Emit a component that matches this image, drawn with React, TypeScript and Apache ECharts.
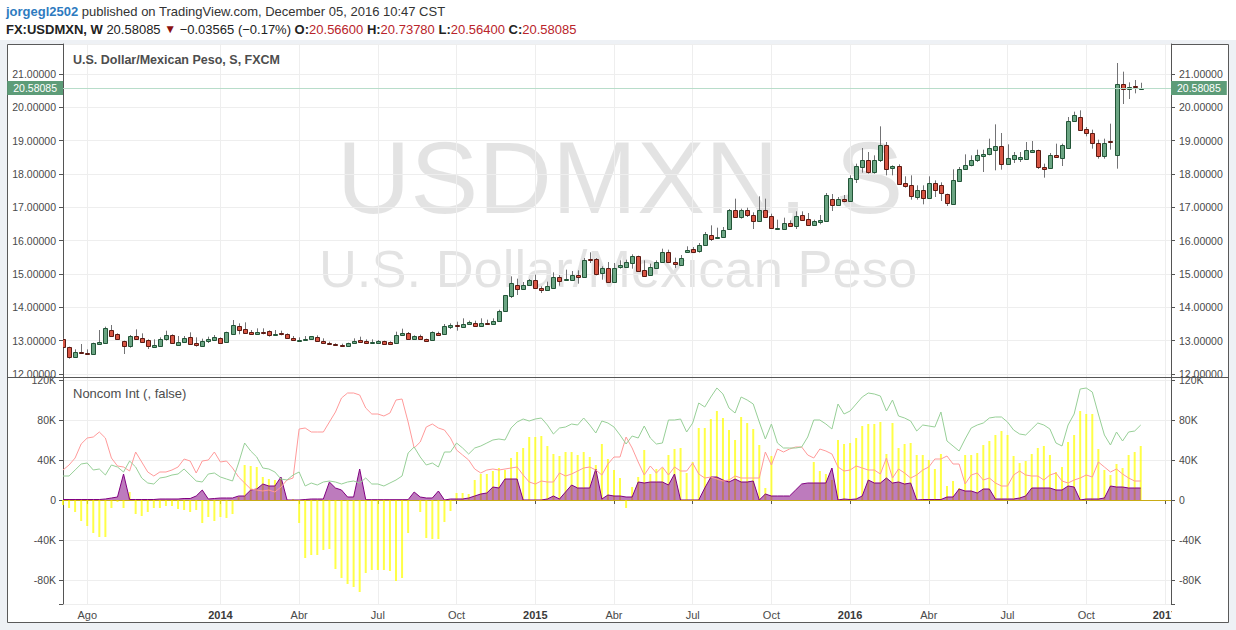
import React, { useEffect, useRef } from 'react';
import * as echarts from 'echarts';

// ---------- categories / ticks ----------
const FIRST_WEEK_UTC = Date.UTC(2013, 6, 8); // week of 2013-07-08
const WEEK_COUNT = 184;
const weeks: string[] = [];
for (let i = 0; i < WEEK_COUNT; i++) {
  weeks.push(new Date(FIRST_WEEK_UTC + i * 7 * 86400000).toISOString().slice(0, 10));
}
const tickDates = ['2013-08-05', '2014-01-06', '2014-04-07', '2014-07-07', '2014-10-06', '2015-01-05', '2015-04-06', '2015-07-06', '2015-10-05', '2016-01-04', '2016-04-04', '2016-07-04', '2016-10-03', '2017-01-02'];
const tickLabels = ['Ago', '2014', 'Abr', 'Jul', 'Oct', '2015', 'Abr', 'Jul', 'Oct', '2016', 'Abr', 'Jul', 'Oct', '2017'];

// ---------- weekly OHLC ----------
const opens = [13.06,12.80,12.52,12.65,12.64,12.59,12.89,12.94,13.32,13.20,
12.98,12.85,13.14,13.08,13.02,12.82,12.85,13.04,13.17,12.88,
12.96,13.10,12.93,12.85,12.98,13.03,13.08,12.97,13.19,13.43,
13.34,13.26,13.21,13.25,13.28,13.18,13.22,13.20,13.07,13.00,
13.03,13.04,13.10,12.99,12.94,12.91,12.88,12.83,12.92,13.02,
12.99,12.96,12.94,12.99,12.97,12.94,13.16,13.23,13.06,13.14,
13.05,13.03,13.22,13.19,13.42,13.48,13.42,13.51,13.52,13.44,
13.52,13.50,13.60,13.88,14.34,14.68,14.55,14.68,14.81,14.58,
14.52,14.58,14.92,14.83,14.83,14.96,14.91,15.46,15.46,15.03,
15.19,14.77,15.21,15.21,15.33,15.53,15.11,14.98,15.19,15.36,
15.67,15.35,15.28,15.67,15.76,15.69,15.88,16.18,16.08,16.11,
16.35,16.93,16.71,16.91,16.76,16.59,16.93,16.73,16.34,16.36,
16.54,16.44,16.78,16.66,16.47,16.57,16.59,17.26,17.07,17.26,
17.18,17.86,18.21,18.41,18.06,18.41,18.86,18.19,18.23,17.73,
17.66,17.31,17.51,17.28,17.74,17.66,17.39,17.11,17.79,18.16,
18.26,18.41,18.55,18.59,18.73,18.84,18.31,18.46,18.46,18.46,
18.67,18.71,18.21,18.18,18.56,18.49,18.79,19.58,19.71,19.34,
19.23,18.93,18.53,19.00,18.58,20.70,20.55,20.65,20.566];
const highs = [13.07,12.82,12.74,12.90,12.74,12.94,13.32,13.42,13.47,13.22,
13.00,13.17,13.34,13.22,13.04,13.04,13.10,13.30,13.19,13.14,
13.14,13.25,13.10,13.06,13.12,13.17,13.10,13.27,13.62,13.52,
13.55,13.32,13.37,13.37,13.31,13.32,13.30,13.22,13.14,13.10,
13.14,13.14,13.16,13.07,12.97,12.92,12.91,12.94,13.07,13.12,
13.04,13.04,13.02,13.00,12.98,13.27,13.36,13.26,13.16,13.18,
13.06,13.28,13.27,13.50,13.52,13.57,13.67,13.60,13.60,13.67,
13.63,13.67,13.93,14.37,14.93,14.86,14.76,14.85,14.98,14.63,
14.77,15.05,14.97,15.13,15.09,15.11,15.48,15.65,15.48,15.23,
15.36,15.33,15.41,15.43,15.59,15.55,15.41,15.31,15.41,15.76,
15.73,15.49,15.57,15.83,15.81,15.93,16.26,16.46,16.39,16.41,
16.95,17.26,16.96,16.99,16.85,17.33,17.26,16.81,16.63,16.69,
16.61,16.88,16.88,16.83,16.63,16.77,17.43,17.40,17.31,17.37,
17.96,18.31,18.78,18.66,18.56,19.43,18.96,18.26,18.29,17.93,
17.96,17.66,17.66,17.93,17.81,17.75,17.41,18.14,18.21,18.59,
18.56,18.73,18.73,19.06,19.49,19.23,18.89,18.66,18.66,18.96,
18.99,18.73,18.31,18.63,18.91,18.91,19.71,19.87,19.91,19.41,
19.33,19.03,19.06,19.51,21.33,21.07,20.75,20.82,20.7378];
const lows = [12.78,12.46,12.49,12.62,12.59,12.57,12.88,12.93,13.13,13.02,
12.60,12.79,13.04,12.94,12.75,12.81,12.82,13.00,12.90,12.85,
12.95,12.89,12.82,12.84,12.93,13.02,12.94,12.96,13.18,13.19,
13.21,13.21,13.20,13.19,13.12,13.17,13.16,13.05,12.99,12.97,
13.01,13.03,12.96,12.94,12.88,12.85,12.82,12.82,12.91,12.96,
12.92,12.94,12.93,12.91,12.91,12.93,13.15,13.02,13.05,13.03,
13.00,13.02,13.15,13.18,13.35,13.30,13.41,13.50,13.42,13.42,
13.49,13.48,13.58,13.86,14.28,14.37,14.52,14.65,14.55,14.43,
14.50,14.55,14.65,14.82,14.81,14.71,14.89,15.33,14.96,14.83,
14.75,14.75,15.16,15.19,15.16,15.07,14.93,14.96,15.17,15.34,
15.33,15.18,15.26,15.63,15.65,15.64,15.85,15.99,16.05,16.09,
16.33,16.69,16.66,16.71,16.35,16.57,16.69,16.36,16.33,16.34,
16.41,16.35,16.59,16.44,16.44,16.49,16.56,16.89,17.04,17.15,
17.16,17.73,18.04,18.01,18.01,18.36,17.96,17.96,17.69,17.59,
17.23,17.23,17.09,17.26,17.31,17.19,17.04,17.09,17.77,18.13,
18.23,18.36,18.06,18.56,18.11,18.13,18.29,18.33,18.36,18.44,
18.63,18.15,17.89,18.16,18.49,18.24,18.76,19.56,19.31,19.13,
18.76,18.46,18.46,18.73,18.16,20.10,20.25,20.42,20.564];
const closes = [12.82,12.52,12.65,12.63,12.61,12.92,12.95,13.37,13.15,13.04,
12.85,13.14,13.06,12.97,12.85,12.88,13.04,13.17,12.92,12.96,
13.07,12.91,12.86,12.98,13.05,13.11,12.94,13.25,13.47,13.33,
13.24,13.21,13.26,13.24,13.16,13.19,13.20,13.07,13.01,13.03,
13.04,13.13,13.00,12.94,12.89,12.86,12.83,12.92,12.99,12.97,
12.94,12.97,13.00,12.91,12.91,13.17,13.24,13.04,13.14,13.06,
13.00,13.26,13.17,13.44,13.47,13.46,13.50,13.56,13.44,13.52,
13.51,13.58,13.90,14.36,14.74,14.55,14.68,14.81,14.58,14.53,
14.63,14.92,14.80,14.86,14.98,14.91,15.43,15.41,15.00,15.19,
14.76,15.19,15.28,15.35,15.53,15.09,14.94,15.22,15.35,15.67,
15.35,15.31,15.49,15.71,15.66,15.88,16.21,16.04,16.11,16.33,
16.93,16.71,16.91,16.77,16.59,16.93,16.71,16.38,16.39,16.54,
16.44,16.75,16.63,16.47,16.58,16.61,17.36,17.08,17.26,17.19,
17.89,18.23,18.41,18.06,18.41,18.86,18.16,18.23,17.71,17.64,
17.34,17.51,17.28,17.74,17.51,17.43,17.13,17.81,18.14,18.28,
18.41,18.56,18.59,18.79,18.84,18.31,18.49,18.56,18.51,18.71,
18.71,18.21,18.16,18.56,18.51,18.86,19.58,19.76,19.33,19.23,
18.93,18.53,18.93,18.96,20.70,20.55,20.62,20.6165,20.58085];
const lastClose = 20.58085;

// ---------- Noncom Int (thousands of contracts) ----------
const netBars = [-5,-8,-12,-21,-26,-33,-37,-37,-8,-2,
-8,8,-14,-16,-12,-8,-8,-6,-6,-9,
-10,-12,-10,-23,-17,-21,-17,-18,-14,3,
35,34,33,23,21,20,22,0,1,-23,
-58,-55,-55,-50,-49,-69,-78,-84,-87,-92,
-73,-70,-70,-70,-71,-81,-78,-33,0,-12,
-38,-39,-39,-22,-11,7,7,6,20,26,
26,29,32,30,42,48,52,63,63,64,
54,46,44,48,48,45,48,43,35,56,
41,30,22,-8,13,23,50,26,31,32,
45,51,52,27,38,72,72,81,89,82,
70,60,83,77,71,55,12,44,0,0,
0,0,0,0,38,29,26,20,60,56,
57,62,74,76,76,78,46,77,52,56,
57,45,45,40,31,46,14,19,12,45,
45,47,55,59,65,69,65,44,37,39,
46,52,54,45,28,33,58,65,89,86,
86,51,30,25,36,32,45,48,54];
const purpleArea = [0.5,0.5,0.5,0.5,0.5,0.5,0.5,1,2,3,
26,0.5,0.5,0.5,0.5,0.5,1,1,1,1,
1.5,1.5,4,10,1,1.5,2,2,2,4,
4,10,11,16,14,14,23,0,0,0,
0.5,1,1,1,18,12,10,3,3,31,
0.3,0.3,0.3,0.3,0.3,0.3,0.3,0.3,8,3,
2,2,9,0,1,1,1,2,4,6,
7,13,12,21,21,21,0,0,0,0,
1,4,1,8,15,12,12,12,31,1,
5,4,4,3,3,18,17,18,18,18,
15,26,0,0,0,0,12,23,23,20,
18,21,18,18,19,0,6,4,4,4,
4,10,16,17,17,17,17,32,0,1,
0.5,1,4,20,17,17,22,17,18,16,
17,0,0.5,0.5,0.5,0.5,3,3,11,9,
9,7,11,11,1,1,1,1,2,4,
12,12,12,12,10,10,14,13,0,1,
1,1,2,14,13,13,12,12,12];
const redLine = [30,35,42,56,62,63,68,62,42,34,
33,29,48,38,28,24,28,28,30,33,
41,39,27,39,40,48,38,39,32,23,
17,11,10,9,10,8,13,20,22,71,
72,68,68,68,78,88,102,107,107,105,
92,86,86,84,87,100,101,78,52,58,
73,76,72,70,62,50,45,40,31,27,
30,31,30,31,32,33,25,18,16,19,
18,18,27,24,26,29,32,33,30,25,
36,43,43,63,52,38,25,34,27,33,
25,33,29,29,37,26,22,23,21,19,
20,24,22,22,22,22,48,35,51,48,
51,53,53,45,42,51,49,46,33,29,
30,34,32,30,30,26,42,22,31,27,
22,25,30,33,41,41,44,36,36,16,
25,27,20,22,17,14,14,25,29,25,
24,24,20,25,27,19,17,20,22,25,
23,38,33,28,31,26,22,19,19];
const greenLine = [24,24,30,36,37,30,31,25,35,33,
28,39,33,22,17,16,22,23,25,26,
31,25,19,18,26,27,23,21,19,37,
57,49,43,32,31,28,21,20,25,28,
14,17,15,18,19,18,16,18,19,17,
22,16,16,14,17,20,24,47,53,43,
35,37,33,48,48,57,52,46,52,54,
57,60,61,60,72,78,81,79,81,82,
75,66,72,73,76,75,82,75,67,79,
77,73,65,56,64,62,74,62,56,57,
80,80,81,68,77,97,93,103,112,106,
92,87,103,100,96,78,61,76,57,52,
52,52,53,63,80,80,76,71,96,86,
89,96,103,107,106,104,89,100,84,82,
79,69,75,74,73,88,59,54,49,61,
72,75,77,82,83,83,78,70,66,65,
71,77,75,71,57,54,75,86,111,112,
108,86,65,55,68,59,68,69,75];

const FONT = '"Liberation Sans", Arial, sans-serif';
const AXIS_COLOR = '#555555';
const LABEL_COLOR = '#4a4a4a';
const GRID_COLOR = '#eeeeee';

export default function App() {
  const ref = useRef<HTMLDivElement>(null);
  useEffect(() => {
    if (!ref.current) return;
    const chart = echarts.init(ref.current, undefined, { renderer: 'svg', width: 1236, height: 630 });

    const isTick = (_i: number, v: string) => tickDates.indexOf(v) >= 0;
    const candleData = opens.map((o, i) => [i, o, closes[i], lows[i], highs[i]]);
    const K = (arr: number[]) => arr.map((v) => v * 1000);

    const priceFmt = (v: number) => (Math.abs(v - Math.round(v)) < 1e-6 ? v.toFixed(5) : '');
    const volFmt = (v: number) => {
      if (Math.abs(v % 40000) > 1e-6) return '';
      return v === 0 ? '0' : v / 1000 + 'K';
    };

    const priceAxisBase = {
      type: 'value',
      gridIndex: 0,
      min: 11.91,
      max: 21.9,
      minInterval: 1,
      maxInterval: 1,
      axisLine: { show: true, lineStyle: { color: AXIS_COLOR, width: 1 } },
      axisTick: { show: true, length: 4, lineStyle: { color: AXIS_COLOR } },
      axisLabel: { formatter: priceFmt, color: LABEL_COLOR, fontSize: 10.5, fontFamily: FONT, margin: 7 },
    };
    const volAxisBase = {
      type: 'value',
      gridIndex: 1,
      min: -104000,
      max: 123000,
      minInterval: 40000,
      maxInterval: 40000,
      axisLine: { show: true, lineStyle: { color: AXIS_COLOR, width: 1 } },
      axisTick: { show: true, length: 4, lineStyle: { color: AXIS_COLOR } },
      axisLabel: { formatter: volFmt, color: LABEL_COLOR, fontSize: 10.5, fontFamily: FONT, margin: 7 },
    };

    const lastLabel = {
      show: true,
      formatter: lastClose.toFixed(5),
      backgroundColor: '#5d9c78',
      color: '#ffffff',
      fontSize: 10.5,
      fontFamily: FONT,
      padding: [2, 6, 1, 6],
      distance: 0,
    };

    const option: any = {
      animation: false,
      backgroundColor: 'transparent',
      grid: [
        { left: 63, right: 65, top: 44, height: 333, containLabel: false, outerBoundsMode: 'none' },
        { left: 63, right: 65, top: 377, height: 227, containLabel: false, outerBoundsMode: 'none' },
      ],
      xAxis: [
        {
          type: 'category', gridIndex: 0, data: weeks, boundaryGap: false,
          axisLine: { show: false }, axisTick: { show: false }, axisLabel: { show: false },
          splitLine: { show: true, interval: isTick, lineStyle: { color: GRID_COLOR, width: 1 } },
        },
        {
          type: 'category', gridIndex: 1, data: weeks, boundaryGap: false,
          axisLine: { show: true, lineStyle: { color: AXIS_COLOR, width: 1 } },
          axisTick: { show: true, interval: isTick, length: 4, lineStyle: { color: AXIS_COLOR } },
          axisLabel: {
            interval: isTick,
            color: LABEL_COLOR,
            fontSize: 11,
            fontFamily: FONT,
            margin: 5,
            formatter: (v: string) => {
              const k = tickDates.indexOf(v);
              if (k < 0) return '';
              const s = tickLabels[k];
              return /^\d{4}$/.test(s) ? '{y|' + s + '}' : s;
            },
            rich: { y: { fontWeight: 'bold', fontSize: 11, fontFamily: FONT, color: '#3a3a3a' } },
          },
          splitLine: { show: true, interval: isTick, lineStyle: { color: GRID_COLOR, width: 1 } },
        },
      ],
      yAxis: [
        { ...priceAxisBase, position: 'left', splitLine: { show: true, lineStyle: { color: GRID_COLOR } } },
        { ...priceAxisBase, position: 'right', splitLine: { show: false }, axisLabel: { ...priceAxisBase.axisLabel, margin: 8 } },
        { ...volAxisBase, position: 'left', splitLine: { show: true, lineStyle: { color: GRID_COLOR } } },
        { ...volAxisBase, position: 'right', splitLine: { show: false }, axisLabel: { ...volAxisBase.axisLabel, margin: 8 } },
      ],
      series: [
        {
          name: 'USDMXN',
          type: 'custom',
          xAxisIndex: 0,
          yAxisIndex: 0,
          clip: true,
          encode: { x: 0, y: [1, 2, 3, 4] },
          data: candleData,
          renderItem: (_params: any, api: any) => {
            const i = api.value(0);
            const o = api.value(1);
            const c = api.value(2);
            const l = api.value(3);
            const h = api.value(4);
            const pO = api.coord([i, o]);
            const pC = api.coord([i, c]);
            const pL = api.coord([i, l]);
            const pH = api.coord([i, h]);
            const cx = Math.round(pO[0]);
            const up = c >= o;
            const top = Math.round(Math.min(pO[1], pC[1])) + 0.5;
            let bot = Math.round(Math.max(pO[1], pC[1])) + 0.5;
            if (bot - top < 1) bot = top + 1;
            return {
              type: 'group',
              children: [
                { type: 'line', shape: { x1: cx + 0.5, y1: pH[1], x2: cx + 0.5, y2: pL[1] }, style: { stroke: '#737375', lineWidth: 1 } },
                {
                  type: 'rect',
                  shape: { x: cx - 1.5, y: top, width: 4, height: bot - top },
                  style: { fill: up ? '#6ba583' : '#d75442', stroke: up ? '#225437' : '#5b1a13', lineWidth: 1 },
                },
              ],
            };
          },
          markLine: {
            silent: true,
            symbol: 'none',
            lineStyle: { color: '#b8ddca', width: 1, type: 'solid' },
            data: [
              { yAxis: lastClose, label: { ...lastLabel, position: 'start' } },
              { yAxis: lastClose, label: { ...lastLabel, position: 'end' } },
            ],
          },
          z: 3,
        },
        {
          name: 'Net',
          type: 'bar',
          xAxisIndex: 1,
          yAxisIndex: 2,
          data: K(netBars),
          barWidth: 2,
          itemStyle: { color: 'rgba(255,255,0,0.72)' },
          markLine: {
            silent: true,
            symbol: 'none',
            label: { show: false },
            lineStyle: { color: 'rgba(240,200,0,0.75)', width: 1, type: 'solid' },
            data: [{ yAxis: 0 }],
          },
          z: 2,
        },
        {
          name: 'Area',
          type: 'line',
          xAxisIndex: 1,
          yAxisIndex: 2,
          data: K(purpleArea),
          symbol: 'none',
          lineStyle: { color: '#800080', width: 1 },
          areaStyle: { color: 'rgba(128,0,128,0.74)', origin: 0 },
          z: 3,
        },
        {
          name: 'Red',
          type: 'line',
          xAxisIndex: 1,
          yAxisIndex: 2,
          data: K(redLine),
          symbol: 'none',
          lineStyle: { color: '#ff9a9a', width: 1 },
          z: 4,
        },
        {
          name: 'Green',
          type: 'line',
          xAxisIndex: 1,
          yAxisIndex: 2,
          data: K(greenLine),
          symbol: 'none',
          lineStyle: { color: '#97cf97', width: 1 },
          z: 4,
        },
      ],
      graphic: [
        { type: 'rect', silent: true, z: -20, shape: { x: 0, y: 0, width: 1236, height: 40 }, style: { fill: '#ffffff' } },
        { type: 'rect', silent: true, z: -20, shape: { x: 7.5, y: 44.5, width: 1221, height: 578 }, style: { fill: '#ffffff', stroke: '#5a5a5a', lineWidth: 1 } },
        {
          type: 'text', silent: true, z: -5, x: 620, y: 178,
          style: { text: 'USDMXN, S', font: '102px ' + FONT, fill: 'rgba(0,0,0,0.11)', textAlign: 'center', textVerticalAlign: 'middle' },
        },
        {
          type: 'text', silent: true, z: -5, x: 618, y: 268,
          style: { text: 'U.S. Dollar/Mexican Peso', font: '52.5px ' + FONT, fill: 'rgba(0,0,0,0.11)', textAlign: 'center', textVerticalAlign: 'middle' },
        },
        {
          type: 'text', silent: true, z: 10, x: 73, y: 60,
          style: { text: 'U.S. Dollar/Mexican Peso, S, FXCM', font: 'bold 12.5px ' + FONT, fill: '#4d4d4d', textVerticalAlign: 'middle' },
        },
        {
          type: 'text', silent: true, z: 10, x: 73, y: 393,
          style: { text: 'Noncom Int (, false)', font: '13px ' + FONT, fill: '#4d4d4d', textVerticalAlign: 'middle' },
        },
        { type: 'line', silent: true, z: 50, shape: { x1: 7, y1: 377.5, x2: 1229, y2: 377.5 }, style: { stroke: '#555555', lineWidth: 1 } },
        { type: 'rect', silent: true, z: 60, shape: { x: 1172, y: 606, width: 56, height: 16 }, style: { fill: '#ffffff' } },
        {
          type: 'text', silent: true, z: 10, x: 6, y: 11,
          style: {
            text: '{u|jorgegl2502}{n| published on TradingView.com, December 05, 2016 10:47 CST}',
            textVerticalAlign: 'middle',
            rich: {
              u: { font: 'bold 13px ' + FONT, fill: '#2e7bbf' },
              n: { font: '13px ' + FONT, fill: '#333333' },
            },
          },
        },
        {
          type: 'text', silent: true, z: 10, x: 6, y: 29,
          style: {
            text: '{b|FX:USDMXN, W}{n| 20.58085 }{t|\u25BC}{n| \u22120.03565 (\u22120.17%) }{b|O:}{v|20.56600}{b| H:}{v|20.73780}{b| L:}{v|20.56400}{b| C:}{v|20.58085}',
            textVerticalAlign: 'middle',
            rich: {
              b: { font: 'bold 13px ' + FONT, fill: '#222222' },
              n: { font: '13px ' + FONT, fill: '#222222' },
              t: { font: '12px ' + FONT, fill: '#8b1010' },
              v: { font: '13px ' + FONT, fill: '#b9242a' },
            },
          },
        },
      ],
    };

    chart.setOption(option);
    return () => chart.dispose();
  }, []);

  return (
    <div
      ref={ref}
      style={{ position: 'fixed', left: 0, top: 0, width: 1236, height: 630, background: '#eef1f5' }}
    />
  );
}
